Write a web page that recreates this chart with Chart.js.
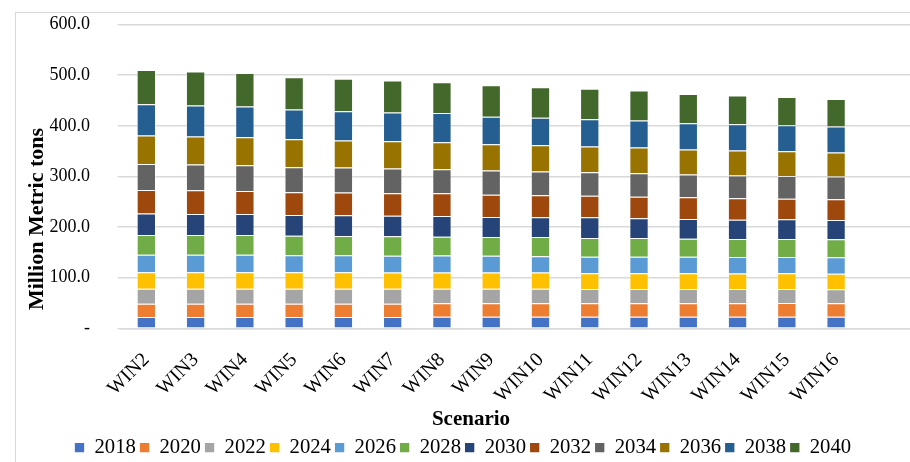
<!DOCTYPE html>
<html><head><meta charset="utf-8">
<script src="https://cdn.jsdelivr.net/npm/chart.js@4.4.1/dist/chart.umd.min.js"></script>
<style>
html,body{margin:0;padding:0;background:#fff;overflow:hidden}
#wrap{position:relative;width:910px;height:462px;overflow:hidden}
#frame{position:absolute;left:15px;top:12px;width:1000px;height:1000px;border-top:1px solid #d9d9d9;border-left:1px solid #d9d9d9}
canvas{position:absolute;left:0;top:0}
</style></head><body>
<div id="wrap"><div id="frame"></div><canvas id="c" width="910" height="462" style="width:910px;height:462px"></canvas></div>
<script>
const scenarios = ['WIN2','WIN3','WIN4','WIN5','WIN6','WIN7','WIN8','WIN9','WIN10','WIN11','WIN12','WIN13','WIN14','WIN15','WIN16'];
const years = ['2018','2020','2022','2024','2026','2028','2030','2032','2034','2036','2038','2040'];
const v2018 = [22.3,22.3,22.3,22.3,22.3,22.3,22.8,22.8,22.8,22.8,22.8,22.8,22.8,22.8,22.8];
const v2020 = [26.3,26.3,26.3,26.3,26.3,26.3,26.6,26.6,26.6,26.6,26.6,26.6,26.6,27.0,26.6];
const v2022 = [29.7,29.7,29.7,29.7,29.7,29.7,28.9,28.9,28.6,28.3,28.3,28.3,28.3,27.9,27.7];
const v2024 = [32.4,32.4,32.4,32.4,32.4,31.7,31.7,31.7,32.0,31.0,31.0,31.0,30.3,31.0,30.8];
const v2026 = [34.8,34.8,34.8,33.6,33.6,33.5,33.8,33.5,32.3,32.8,32.8,32.8,33.0,32.3,32.4];
const v2028 = [38.9,38.9,38.9,38.7,38.1,38.3,37.2,36.9,38.1,37.0,37.0,35.5,35.5,35.5,35.6];
const v2030 = [42.1,41.5,41.5,41.0,40.9,40.7,41.0,39.6,39.0,40.9,38.9,39.0,38.1,38.9,38.1];
const v2032 = [46.8,46.8,45.4,44.8,44.7,44.3,44.8,44.0,43.4,42.6,42.6,42.9,42.4,40.6,40.9];
const v2034 = [51.4,50.6,50.7,49.2,49.4,48.6,47.2,47.5,46.7,46.3,46.3,44.7,44.6,45.0,44.7];
const v2036 = [55.9,55.4,55.5,55.5,53.4,54.2,53.6,52.1,52.2,50.6,50.7,49.4,49.4,48.8,47.4];
const v2038 = [62.1,61.3,60.5,58.5,58.1,56.4,57.4,54.4,54.3,54.1,53.3,52.0,52.0,51.2,51.4];
const v2040 = [67.3,67.0,66.0,64.0,63.8,63.3,61.0,62.0,60.0,60.0,59.3,57.5,56.7,56.0,54.6];
const yTicks = [0,100,200,300,400,500,600];
const xTitle = 'Scenario';
const yTitle = 'Million Metric tons';

const seriesValues = [v2018,v2020,v2022,v2024,v2026,v2028,v2030,v2032,v2034,v2036,v2038,v2040];
const colors = ['#4472C4','#ED7D31','#A5A5A5','#FFC000','#5B9BD5','#70AD47','#264478','#9E480E','#636363','#997300','#255E91','#43682B'];
const FONT = '"Liberation Serif", "Times New Roman", serif';

const axisTitles = {
  id: 'axisTitles',
  afterDraw(chart) {
    const ctx = chart.ctx;
    ctx.save();
    ctx.fillStyle = '#000';
    ctx.textAlign = 'center';
    ctx.textBaseline = 'alphabetic';
    ctx.font = 'bold 21px ' + FONT;
    ctx.fillText(xTitle, 471, 425);
    ctx.translate(42.7, 219);
    ctx.rotate(-Math.PI / 2);
    ctx.font = 'bold 22px ' + FONT;
    ctx.fillText(yTitle, 0, 0);
    ctx.restore();
  }
};

new Chart(document.getElementById('c'), {
  type: 'bar',
  data: {
    labels: [...scenarios, ''],
    datasets: years.map((y, i) => ({
      label: y,
      data: seriesValues[i],
      backgroundColor: colors[i],
      borderColor: 'rgba(255,255,255,0.35)',
      borderWidth: 1,
      barPercentage: 0.392,
      categoryPercentage: 1
    }))
  },
  options: {
    responsive: false,
    animation: false,
    devicePixelRatio: 1,
    layout: { padding: { left: 16, right: 0, top: 24.5, bottom: -6 } },
    scales: {
      x: {
        stacked: true,
        grid: { display: false, drawTicks: false },
        border: { display: true, color: '#d9d9d9', width: 1.5 },
        ticks: {
          autoSkip: false, minRotation: 45, maxRotation: 45, padding: 20,
          color: '#000', font: { family: FONT, size: 20 }
        },
        afterFit: s => { s.height = 105; s.paddingLeft = 0; s.paddingRight = 0; }
      },
      y: {
        stacked: true, min: 0, max: 600,
        afterBuildTicks: s => { s.ticks = yTicks.map(v => ({ value: v })); },
        grid: { color: '#d9d9d9', lineWidth: 1.5, drawTicks: true, tickLength: 4 },
        border: { display: false },
        ticks: {
          padding: 27.7, color: '#000', font: { family: FONT, size: 18 },
          callback: v => v === 0 ? '-' : Number(v).toFixed(1)
        },
        afterFit: s => { s.width = 105.7; s.paddingTop = 0; s.paddingBottom = 0; }
      }
    },
    plugins: {
      tooltip: { enabled: false },
      legend: {
        position: 'bottom',
        labels: {
          boxWidth: 9.3, boxHeight: 9.3, padding: 4, color: '#000',
          font: { family: FONT, size: 20.7 },
          generateLabels: chart => Chart.defaults.plugins.legend.labels.generateLabels(chart).map(l => ({ ...l, lineWidth: 0 }))
        }
      }
    }
  },
  plugins: [axisTitles]
});
</script>
</body></html>
